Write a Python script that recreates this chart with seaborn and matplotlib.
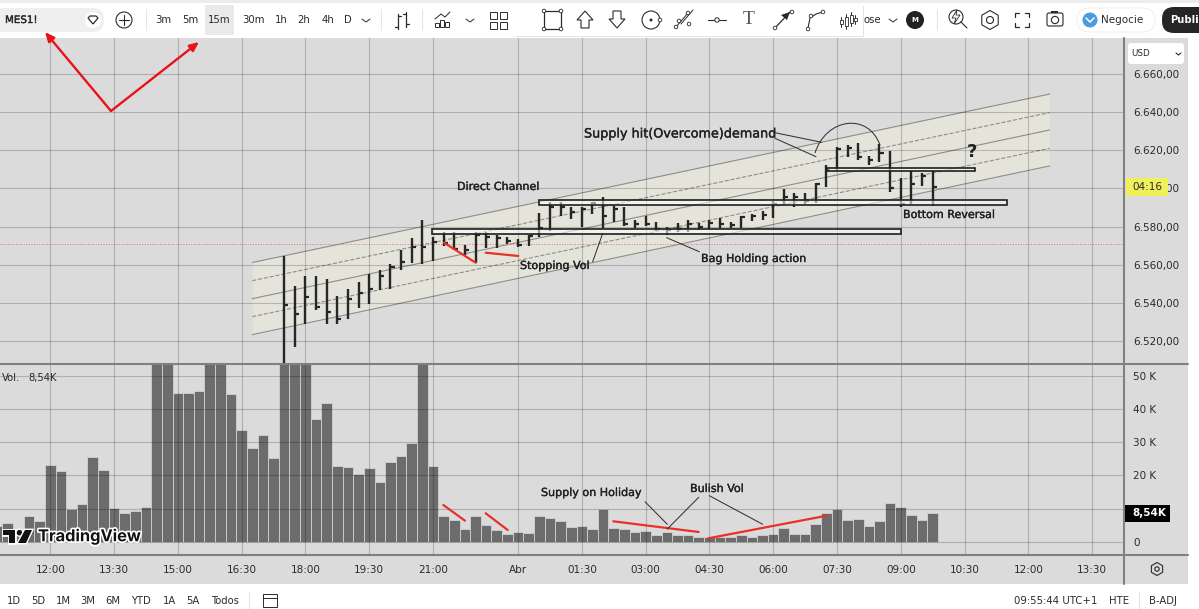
import numpy as np
import pandas as pd
import matplotlib
matplotlib.use("Agg")
import matplotlib.pyplot as plt
import matplotlib.patheffects as pe
from matplotlib.patches import Rectangle, FancyBboxPatch, Circle, PathPatch, Polygon, RegularPolygon
from matplotlib.path import Path
import seaborn as sns

# Constants
W, H = 1199, 609
BG = "#dbdbdb"
GRID = (0, 0, 0, 0.20)
AXIS_GREY = "#808080"
BAR_DARK = "#262626"
VOL_GREY = "#6c6c6c"
RED = "#ea3027"
INK = "#2a2a2a"

# Volume per 15m bar, in thousands (tall ones run off the top of the pane)
vol_idx = list(range(-5, 84))
vol_k = [4.7, 5.5, 3.5, 7.8, 6.1, 23.2, 21.4, 9.9, 11.4, 25.6, 21.6, 10.2, 8.8, 9.2, 10.6,
         60, 60, 45, 45, 45.4, 60, 60, 44.5, 33.9, 28.4, 32.3, 25.4, 60, 60, 60,
         37, 41.8, 22.8, 22.6, 20.6, 22.4, 18.1, 24.2, 25.8, 29.7, 60, 23, 7.8, 6.6, 3.9,
         7.8, 5, 3.5, 2.3, 2.8, 2.5, 7.8, 7.2, 6.1, 4.5, 4.7, 3.7, 10, 4, 3.7,
         2.9, 3.2, 2.1, 2.9, 1.9, 1.9, 1.3, 1.3, 1.3, 1.4, 1.9, 1.4, 1.9, 2.3, 4,
         2.3, 2.3, 5.2, 8.8, 9.8, 6.5, 6.8, 4.7, 6.1, 11.6, 10.4, 8, 6.5, 8.54]

# High / low / close bars, starting at bar 22
price_start = 22
highs = [6564.4, 6548.7, 6554.3, 6553.9, 6552.5, 6543.8, 6547.6, 6550.8, 6555.1, 6557.4, 6560.4,
         6567.9, 6573.9, 6583.2, 6574.5, 6577.4, 6577.1, 6570.5, 6576.9, 6577.4, 6575.7, 6574.5,
         6573.6, 6575.7, 6587.0, 6593.1, 6592.7, 6590.1, 6590.1, 6593.1, 6595.2, 6590.5, 6590.1,
         6583.2, 6585.6, 6582.3, 6580.0, 6581.8, 6583.2, 6582.1, 6583.2, 6584.6, 6582.6, 6585.3,
         6586.6, 6588.4, 6593.6, 6599.9, 6597.4, 6597.4, 6603.0, 6612.4, 6621.5, 6622.7, 6623.9,
         6616.9, 6623.0, 6619.5, 6605.3, 6608.8, 6607.9, 6608.8]
lows = [6507.8, 6517.0, 6529.2, 6536.2, 6529.2, 6529.0, 6531.6, 6537.2, 6539.7, 6546.6, 6547.5,
        6557.1, 6560.9, 6560.4, 6561.8, 6569.6, 6567.5, 6564.9, 6560.9, 6568.7, 6568.7, 6570.8,
        6569.2, 6569.6, 6574.5, 6577.8, 6585.3, 6583.9, 6580.0, 6586.5, 6579.2, 6582.3, 6580.4,
        6579.2, 6580.4, 6577.9, 6575.5, 6577.4, 6577.4, 6578.3, 6578.8, 6579.0, 6579.0, 6579.0,
        6582.8, 6583.2, 6584.7, 6591.4, 6590.1, 6591.9, 6592.2, 6600.9, 6609.6, 6616.6, 6614.8,
        6612.2, 6614.0, 6598.3, 6590.1, 6591.9, 6601.3, 6590.5]
closes = [6539.1, 6534.4, 6543.1, 6537.9, 6535.3, 6531.8, 6542.3, 6545.2, 6547.5, 6554.4, 6558.6,
          6561.4, 6569.1, 6569.1, 6571.7, 6571.3, 6568.4, 6567.5, 6575.5, 6574.3, 6573.9, 6572.2,
          6570.5, 6575.3, 6579.2, 6590.1, 6590.1, 6587.5, 6589.1, 6592.2, 6585.6, 6589.1, 6581.4,
          6581.3, 6581.3, 6578.6, 6578.3, 6578.8, 6581.3, 6580.0, 6582.1, 6581.1, 6580.6, 6584.9,
          6585.3, 6586.0, 6591.9, 6595.7, 6595.4, 6593.4, 6602.3, 6609.6, 6620.8, 6620.9, 6616.6,
          6614.8, 6618.7, 6600.1, 6591.9, 6602.3, 6606.5, 6600.9]

# Trend channel: start and end bar, then one price pair per line, top to bottom
channel_x = [19, 94]
channel_lines = [[6561.2, 6649.3], [6551.7, 6639.6], [6542.3, 6630.5], [6532.9, 6620.9], [6523.5, 6611.7]]
channel_dashed = [False, True, False, True, False]
last_price = 6571.0

# Axis labels
time_ticks = [0, 6, 12, 18, 24, 30, 36, 44, 50, 56, 62, 68, 74, 80, 86, 92, 98]
time_labels = ["12:00", "13:30", "15:00", "16:30", "18:00", "19:30", "21:00", "Abr", "01:30",
               "03:00", "04:30", "06:00", "07:30", "09:00", "10:30", "12:00", "13:30"]
price_ticks = [6520, 6540, 6560, 6580, 6600, 6620, 6640, 6660]
price_labels = ["6.520,00", "6.540,00", "6.560,00", "6.580,00", "6.600,00", "6.620,00", "6.640,00", "6.660,00"]
vol_ticks = [0, 10, 20, 30, 40, 50]
vol_labels = ["0", "10 K", "20 K", "30 K", "40 K", "50 K"]
timeframes = ["3m", "5m", "15m", "30m", "1h", "2h", "4h", "D"]
timeframe_x = [163, 190, 219, 253, 281, 304, 328, 348]
ranges = ["1D", "5D", "1M", "3M", "6M", "YTD", "1A", "5A", "Todos"]
range_x = [14, 38, 63, 88, 113, 141, 170, 193, 225]

sns.set_theme(style="whitegrid", rc={
    "axes.facecolor": BG, "figure.facecolor": "white", "axes.edgecolor": AXIS_GREY,
    "grid.color": GRID, "grid.linewidth": 0.8,
})
plt.rcParams["font.family"] = ["DejaVu Sans"]


def pane(fig, top, bottom):
    """Chart pane between two pixel rows, ending at the price scale."""
    return fig.add_axes([0, 1 - bottom / H, 1124 / W, (bottom - top) / H], zorder=2)


def setup_pane(ax, ylim, yticks, ylabels):
    ax.set_xlim(-4.73, 101.0)
    ax.set_ylim(*ylim)
    ax.set_axisbelow(False)
    ax.yaxis.tick_right()
    ax.set_yticks(yticks)
    ax.set_yticklabels(ylabels, fontsize=7.5, color=INK)
    ax.tick_params(axis="y", length=0, pad=6.5)
    ax.set_xlabel("")
    ax.set_ylabel("")
    sns.despine(ax=ax, left=True, top=True, right=True, bottom=True)


def plot_price(ax):
    idx = np.arange(price_start, price_start + len(highs))
    ax.fill_between(channel_x, channel_lines[0], channel_lines[-1], color="#e4e4da", zorder=1, lw=0)
    for prices, dashed in zip(channel_lines, channel_dashed):
        sns.lineplot(x=channel_x, y=prices, ax=ax, color="#8e8e86", linewidth=0.8,
                     linestyle="--" if dashed else "-", zorder=2)
    ax.axhline(last_price, color="#e07070", lw=0.7, ls=":", zorder=2)
    ax.vlines(idx, lows, highs, color=BAR_DARK, lw=1.7, zorder=3)
    ax.hlines(closes, idx, idx + 0.38, color=BAR_DARK, lw=1.6, zorder=3)
    ax.set_xticks(time_ticks)
    ax.tick_params(axis="x", length=0, labelbottom=False)
    setup_pane(ax, (6508.4, 6678.6), price_ticks, price_labels)


def plot_volume(ax):
    df = pd.DataFrame({"bar": vol_idx, "vol": vol_k})
    sns.barplot(data=df, x="bar", y="vol", ax=ax, native_scale=True, color=VOL_GREY,
                saturation=1, width=1.0, edgecolor="#d2d2d2", linewidth=0.6, zorder=2)
    ax.set_xticks(time_ticks)
    ax.set_xticklabels(time_labels, fontsize=7.5, color=INK)
    ax.tick_params(axis="x", length=0, pad=7.5)
    setup_pane(ax, (-4.03, 53.85), vol_ticks, vol_labels)


def line(ax, xs, ys, color=INK, lw=0.8, **kw):
    ax.plot(xs, ys, color=color, lw=lw, solid_capstyle="round", **kw)


def label(ax, x, y, s, size=7.5, ha="center", color=INK, **kw):
    ax.text(x, y, s, fontsize=size, ha=ha, va="center", color=color, **kw)


def pill(ax, x0, y0, x1, y1, r, color, zorder=1, ec="none"):
    ax.add_patch(FancyBboxPatch((x0 + r, y0 + r), x1 - x0 - 2 * r, y1 - y0 - 2 * r,
                                boxstyle=f"round,pad={r},rounding_size={r}", fc=color, ec=ec,
                                lw=0.6, zorder=zorder))


def draw_background(ax):
    ax.add_patch(Rectangle((1124, 38), 64, 546, fc=BG, ec="none"))
    ax.add_patch(Rectangle((0, 555), 1188, 29, fc=BG, ec="none"))


def draw_chrome(ax):
    # pane separators
    line(ax, [1124, 1124], [38, 584], AXIS_GREY, 1.5)
    line(ax, [0, 1188], [363.5, 363.5], AXIS_GREY, 1.5)
    line(ax, [0, 1188], [555, 555], AXIS_GREY, 1.5)

    # top toolbar
    ax.add_patch(Rectangle((0, 0), W, 3, fc="#ececec", ec="none"))
    pill(ax, -10, 8, 104, 32, 11, "#efefef")
    label(ax, 5, 20, "MES1!", 7.4, ha="left", path_effects=[pe.withStroke(linewidth=0.3, foreground=INK)])
    ax.add_patch(Circle((93, 20), 8, fc="white", ec="none"))
    ax.add_patch(Polygon([(88, 18), (90, 16), (96, 16), (98, 18), (93, 24)], fc="white", ec=INK, lw=0.9))
    ax.add_patch(Circle((124, 20), 8, fc="white", ec=INK, lw=0.8))
    line(ax, [119, 129], [20, 20])
    line(ax, [124, 124], [15, 25])
    line(ax, [146, 146], [9, 30], "#e6e6e6", 0.8)
    ax.add_patch(Rectangle((205, 5), 29, 30, fc="#e9e9e9", ec="none"))
    for x, s in zip(timeframe_x, timeframes):
        label(ax, x, 20, s, 7.3)
    line(ax, [362, 366, 370], [19, 22, 19], lw=0.7)
    line(ax, [381, 381], [9, 30], "#e6e6e6", 0.8)
    line(ax, [398, 398], [14, 29], lw=0.9)
    line(ax, [406, 406], [12, 27], lw=0.9)
    line(ax, [395, 398], [27, 27], lw=0.9)
    line(ax, [398, 401], [16, 16], lw=0.9)
    line(ax, [403, 406], [14, 14], lw=0.9)
    line(ax, [406, 409], [24, 24], lw=0.9)
    line(ax, [422, 422], [9, 30], "#e6e6e6", 0.8)
    line(ax, [435, 441, 445, 450], [19, 14, 17, 12], lw=0.7)
    for x, top in zip([437, 442, 447], [23, 20, 22]):
        ax.add_patch(Rectangle((x - 2, top), 4, 27 - top, fc="none", ec=INK, lw=0.7))
    line(ax, [466, 470, 474], [19, 22, 19], lw=0.7)
    for x in (493, 503):
        for y in (15, 25):
            ax.add_patch(Rectangle((x - 3.5, y - 3.5), 7, 7, fc="none", ec=INK, lw=0.7))

    # floating drawing toolbar
    ax.add_patch(Rectangle((516, 6), 348, 31, fc="#c9c9c9", ec="none", alpha=0.5, zorder=2))
    ax.add_patch(Rectangle((514, 4), 349, 32, fc="white", ec="none", zorder=2))
    ax.add_patch(Rectangle((544, 11), 17, 18, fc="none", ec=INK, lw=0.9, zorder=3))
    for x, y in [(544, 11), (561, 11), (544, 29), (561, 29)]:
        ax.add_patch(Circle((x, y), 1.8, fc="white", ec=INK, lw=0.6, zorder=4))
    ax.add_patch(Polygon([(585, 11), (593, 20), (589, 20), (589, 28), (581, 28), (581, 20), (577, 20)],
                         fc="none", ec=INK, lw=0.8, zorder=3))
    ax.add_patch(Polygon([(617, 28), (609, 19), (613, 19), (613, 11), (621, 11), (621, 19), (625, 19)],
                         fc="none", ec=INK, lw=0.8, zorder=3))
    ax.add_patch(Circle((651, 20), 9, fc="none", ec=INK, lw=0.8, zorder=3))
    ax.add_patch(Circle((651, 20), 1.5, fc=INK, ec="none", zorder=3))
    ax.add_patch(Circle((660, 20), 1.8, fc="white", ec=INK, lw=0.6, zorder=4))
    for dx in (0, 5):
        line(ax, [676 + dx, 688 + dx], [27 - dx * 0.6, 13 - dx * 0.6], lw=0.7, zorder=3)
    for x, y in [(676, 27), (688, 13), (679, 21), (689, 24)]:
        ax.add_patch(Circle((x, y), 1.8, fc="white", ec=INK, lw=0.6, zorder=4))
    line(ax, [708, 726], [20, 20], lw=0.8, zorder=3)
    ax.add_patch(Circle((717, 20), 2.2, fc="white", ec=INK, lw=0.7, zorder=4))
    label(ax, 749, 20, "T", 14, color="#555555", zorder=4, family="Liberation Serif")
    line(ax, [775, 790], [28, 12], lw=0.9, zorder=3)
    ax.add_patch(Polygon([(790, 12), (781, 15), (787, 20)], fc=INK, ec="none", zorder=4))
    ax.add_patch(Circle((775, 28), 1.8, fc="white", ec=INK, lw=0.6, zorder=4))
    ax.add_patch(Circle((792, 12), 1.8, fc="white", ec=INK, lw=0.6, zorder=4))
    line(ax, [808, 810, 816, 823], [28, 18, 14, 12], lw=0.8, zorder=3)
    for x, y in [(808, 29), (811, 16), (823, 12)]:
        ax.add_patch(Circle((x, y), 1.8, fc="white", ec=INK, lw=0.6, zorder=4))
    for x, y0, y1 in [(841, 17, 27), (846, 14, 29), (851, 12, 26), (855, 15, 24)]:
        line(ax, [x, x], [y0, y1], lw=0.7, zorder=3)
        ax.add_patch(Rectangle((x - 1.5, y0 + 3), 3, y1 - y0 - 6, fc="white", ec=INK, lw=0.6, zorder=4))

    # right side of the toolbar
    label(ax, 872, 20, "ose", 7.3, zorder=1)
    line(ax, [889, 893, 897], [19, 22, 19], lw=0.7)
    ax.add_patch(Circle((915, 20), 9, fc="#222222", ec="none"))
    label(ax, 915, 20, "M", 5, color="white", fontweight="bold")
    line(ax, [937, 937], [9, 30], "#e6e6e6", 0.8)
    ax.add_patch(Circle((956, 17), 7, fc="none", ec=INK, lw=0.8))
    line(ax, [961, 967], [22, 28], lw=0.8)
    ax.add_patch(Polygon([(957, 10), (952, 18), (956, 18), (954, 24), (960, 15), (956, 15)], fc="white", ec=INK, lw=0.6))
    ax.add_patch(RegularPolygon((990, 20), 6, radius=9.5, fc="none", ec=INK, lw=0.8))
    ax.add_patch(Circle((990, 20), 3.5, fc="none", ec=INK, lw=0.8))
    for sx, sy in [(1, 1), (-1, 1), (1, -1), (-1, -1)]:
        line(ax, [1022 + sx * 7, 1022 + sx * 7, 1022 + sx * 3], [20 + sy * 3, 20 + sy * 7, 20 + sy * 7], lw=0.9)
    ax.add_patch(FancyBboxPatch((1047, 13), 16, 13, boxstyle="round,pad=0,rounding_size=2", fc="none", ec=INK, lw=0.8))
    ax.add_patch(Rectangle((1051, 11), 7, 2, fc=INK, ec="none"))
    ax.add_patch(Circle((1055, 20), 3.6, fc="none", ec=INK, lw=0.8))
    pill(ax, 1077, 8, 1155, 32, 12, "white", ec="#ececec")
    ax.add_patch(Circle((1090, 20), 7.5, fc="#4a9be0", ec="none"))
    line(ax, [1086, 1090, 1094], [18, 22, 18], "white", 1.1)
    label(ax, 1101, 20, "Negocie", 7.5, ha="left")
    pill(ax, 1162, 7, 1230, 33, 12, "#262626")
    label(ax, 1170, 20, "Publi", 7.2, ha="left", color="white", fontweight="bold", clip_on=True)

    # price scale boxes
    pill(ax, 1128, 43, 1184, 64, 3, "white", zorder=3)
    label(ax, 1131, 54, "USD", 6.3, ha="left", zorder=4)
    line(ax, [1176, 1178.5, 1181], [53, 55, 53], lw=0.8, zorder=4)
    ax.add_patch(Rectangle((1126, 178), 42, 18, fc="#eff05c", ec="none", zorder=3))
    label(ax, 1147, 187, "04:16", 7.5, zorder=4)
    ax.add_patch(Rectangle((1125, 505), 45, 17, fc="black", ec="none", zorder=3))
    label(ax, 1149, 513.5, "8,54K", 7.5, color="white", fontweight="bold", zorder=4)
    ax.add_patch(RegularPolygon((1157, 569), 6, radius=6.5, fc="none", ec=INK, lw=0.8))
    ax.add_patch(Circle((1157, 569), 2.2, fc="none", ec=INK, lw=0.8))

    # pane caption and watermark
    label(ax, 2, 378, "Vol.", 7.2, ha="left")
    label(ax, 28, 378, "8,54K", 7.2, ha="left")
    halo = [pe.withStroke(linewidth=2.4, foreground="white")]
    label(ax, 38, 536.5, "TradingView", 11.8, ha="left", color="#111111", family="Inter",
          fontweight="bold", path_effects=halo)
    for art in (ax.add_patch(Polygon([(3, 530), (15, 530), (15, 543), (9, 543), (9, 535), (3, 535)], fc="#111111", ec="none")),
                ax.add_patch(Circle((19.5, 532.7), 2.8, fc="#111111", ec="none")),
                ax.add_patch(Polygon([(25, 530), (32, 530), (26, 543), (18, 543)], fc="#111111", ec="none"))):
        art.set_path_effects([pe.withStroke(linewidth=2, foreground="white")])

    # bottom bar
    for x, s in zip(range_x, ranges):
        label(ax, x, 601, s, 7.2)
    line(ax, [249, 249], [592, 609], "#e6e6e6", 0.8)
    ax.add_patch(Rectangle((263, 594), 14, 13, fc="none", ec=INK, lw=0.7))
    line(ax, [263, 277], [598, 598], lw=0.7)
    label(ax, 1097, 601, "09:55:44 UTC+1", 7.3, ha="right")
    label(ax, 1119.5, 601, "HTE", 7.3)
    line(ax, [1139, 1139], [592, 609], "#e6e6e6", 0.8)
    label(ax, 1163.5, 601, "B-ADJ", 7.3)


def draw_annotations(ax):
    # red arrows in the empty top left
    for tip in [(45, 32), (199, 42)]:
        ax.annotate("", xy=tip, xytext=(111, 111), zorder=6,
                    arrowprops=dict(arrowstyle="-|>,head_length=0.45,head_width=0.2", color="#e8131a", lw=1.7,
                                    shrinkA=0, shrinkB=0))

    # hand drawn levels
    for x0, x1, y0, y1 in [(539, 1007, 200, 205), (432, 901, 229, 234), (827, 975, 167.7, 171)]:
        ax.add_patch(Rectangle((x0, y0), x1 - x0, y1 - y0, fc=(1, 1, 1, 0.55), ec="#1e1e1e", lw=1.2, zorder=3))

    # red trend marks
    red_marks = [((444, 475.7), (242.7, 262.7)), ((485.7, 518.3), (252.7, 256)),
                 ((443.3, 465), (505, 520.7)), ((485.7, 507.7), (513.3, 530)),
                 ((613.3, 698.7), (521.3, 532)), ((708.3, 826.7), (538.3, 515.7))]
    for xs, ys in red_marks:
        line(ax, xs, ys, RED, 1.6, zorder=5)

    # leader lines
    leaders = [((592.7, 602.7), (261.7, 233.3)), ((775, 821.7), (132.7, 142.3)), ((775, 816), (138.3, 156.7)),
               ((666.7, 699.3), (237.7, 251.7)), ((645, 667.3), (501.7, 524.3)), ((698.7, 667.3), (497.3, 529)),
               ((709.3, 762.7), (495.7, 524.3))]
    for xs, ys in leaders:
        line(ax, xs, ys, "#333333", 0.75, zorder=5)
    arc = Path([(815, 153), (826, 118), (868, 112), (880, 145)], [Path.MOVETO, Path.CURVE4, Path.CURVE4, Path.CURVE4])
    ax.add_patch(PathPatch(arc, fc="none", ec="#333333", lw=0.75, zorder=5))

    notes = [(584, 134, "Supply hit(Overcome)demand"), (457, 187, "Direct Channel"),
             (520, 266, "Stopping Vol"), (701, 259, "Bag Holding action"),
             (903, 215, "Bottom Reversal"), (541, 493, "Supply on Holiday"), (690, 489, "Bulish Vol")]
    bold = [pe.withStroke(linewidth=0.25, foreground="#222222")]
    for x, y, s in notes:
        label(ax, x, y, s, 8.0 if "Supply hit" not in s else 9.2, ha="left", color="#222222", zorder=6, path_effects=bold)
    label(ax, 972, 152, "?", 13, color="#222222", zorder=6, fontweight="bold")


def main():
    fig = plt.figure(figsize=(W / 100, H / 100), dpi=100)

    back_ax = fig.add_axes([0, 0, 1, 1], zorder=0)
    back_ax.set_xlim(0, W)
    back_ax.set_ylim(H, 0)
    back_ax.axis("off")
    draw_background(back_ax)

    price_ax = pane(fig, 38, 363.5)
    vol_ax = pane(fig, 363.5, 555)
    plot_price(price_ax)
    plot_volume(vol_ax)

    top_ax = fig.add_axes([0, 0, 1, 1], zorder=5)
    top_ax.set_xlim(0, W)
    top_ax.set_ylim(H, 0)
    top_ax.axis("off")
    draw_chrome(top_ax)
    draw_annotations(top_ax)

    fig.savefig("out.png", dpi=100)
    plt.close(fig)


if __name__ == "__main__":
    main()
